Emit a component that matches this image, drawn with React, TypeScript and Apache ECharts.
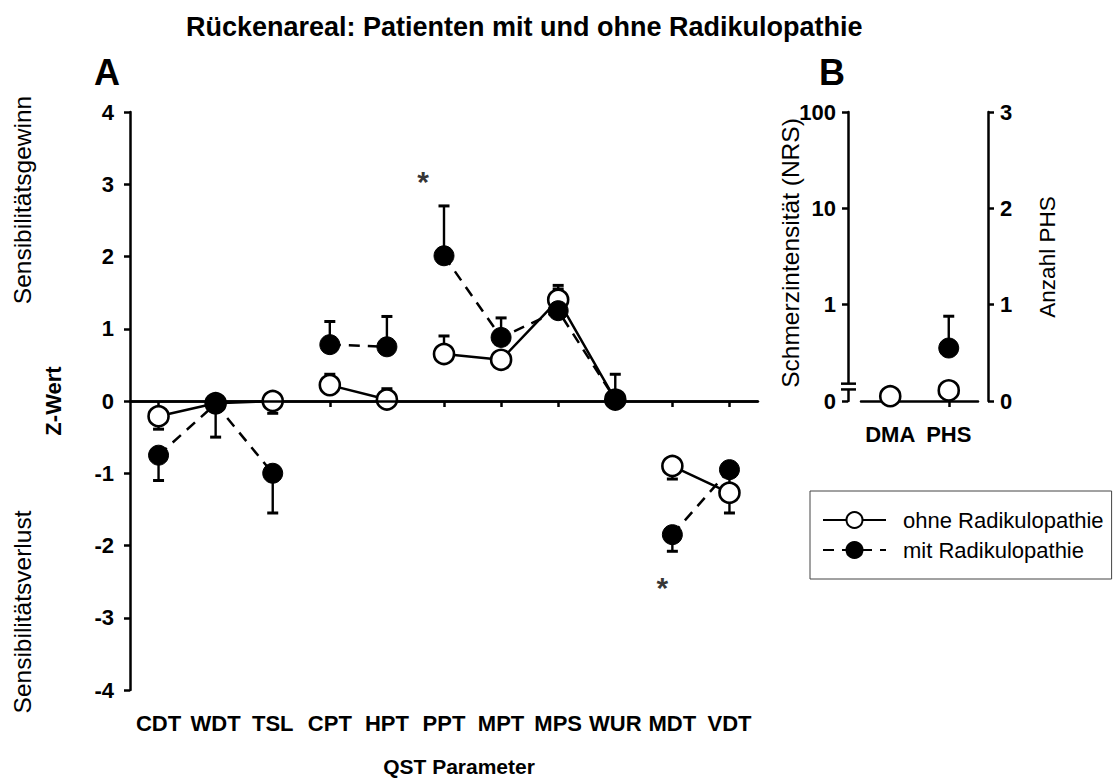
import React, { useEffect, useRef } from "react";
import * as echarts from "echarts";

const FONT = '"Liberation Sans", Arial, sans-serif';

// Panel A
const categories = ["CDT", "WDT", "TSL", "CPT", "HPT", "PPT", "MPT", "MPS", "WUR", "MDT", "VDT"];
const ohneValues = [-0.21, -0.03, 0.0, 0.22, 0.02, 0.65, 0.57, 1.4, 0.02, -0.9, -1.27];
const ohneErrors = [-0.18, -0.08, -0.17, 0.15, 0.15, 0.25, 0.1, 0.2, 0.1, -0.18, -0.28];
const mitValues = [-0.75, -0.04, -1.0, 0.78, 0.75, 2.01, 0.88, 1.25, 0.02, -1.85, -0.95];
const mitErrors = [-0.35, -0.46, -0.55, 0.32, 0.42, 0.69, 0.27, 0.3, 0.35, -0.23, -0.3];
const lineGroups = [[0, 1, 2], [3, 4], [5, 6, 7, 8], [9, 10]];
const starCategories = [5, 9];
const starValues = [3.15, -2.47];
const starOffsets = [-21, -10];

// Panel B
const bCategories = ["DMA", "PHS"];
const bOhne = [0.05, 0.11];
const bMit: (number | string)[] = ["-", 0.55];
const bMitErr = [0, 0.33];
const bLeftLabels = ["0", "1", "10", "100"];
const bRightLabels = ["0", "1", "2", "3"];

const NAME_OHNE = "ohne Radikulopathie";
const NAME_MIT = "mit Radikulopathie";

function errorRender(params: any, api: any) {
  const x = api.value(0);
  const y = api.value(1);
  const e = api.value(2);
  if (!e) return null;
  const p0 = api.coord([x, y]);
  const p1 = api.coord([x, y + e]);
  const hw = 5.5;
  return {
    type: "group",
    children: [
      { type: "line", shape: { x1: p0[0], y1: p0[1], x2: p1[0], y2: p1[1] }, style: { stroke: "#000", lineWidth: 2.4 } },
      { type: "line", shape: { x1: p1[0] - hw, y1: p1[1], x2: p1[0] + hw, y2: p1[1] }, style: { stroke: "#000", lineWidth: 3 } },
    ],
  };
}

export default function App() {
  const ref = useRef<HTMLDivElement>(null);
  useEffect(() => {
    document.body.style.margin = "0";
    const chart = echarts.init(ref.current!, null, { renderer: "svg" });

    const axisLine = { show: true, lineStyle: { color: "#000", width: 2.5 } };
    const axisTick = { show: true, length: 6, lineStyle: { color: "#000", width: 2.5 } };
    const tickFont = { color: "#000", fontFamily: FONT, fontWeight: "bold" as const, fontSize: 22 };

    const ohneSymbol = { color: "#fff", borderColor: "#000", borderWidth: 2.6, opacity: 1 };
    const mitSymbol = { color: "#000", borderColor: "#000", borderWidth: 1, opacity: 1 };

    const groupSeries = (values: number[], name: string, dashed: boolean) =>
      lineGroups.map((g) => ({
        type: "line",
        name,
        xAxisIndex: 0,
        yAxisIndex: 0,
        data: categories.map((_, i) => (g.includes(i) ? values[i] : "-")),
        symbol: "circle",
        symbolSize: 20,
        showSymbol: true,
        itemStyle: dashed ? mitSymbol : ohneSymbol,
        lineStyle: { color: "#000", width: 2.5, type: dashed ? [11, 8] : "solid" },
        silent: true,
        emphasis: { disabled: true },
      }));

    const option: any = {
      animation: false,
      title: {
        text: "Rückenareal: Patienten mit und ohne Radikulopathie",
        left: 181,
        top: 8,
        textStyle: { fontFamily: FONT, fontWeight: "bold", fontSize: 27, color: "#000" },
      },
      legend: {
        data: [NAME_OHNE, NAME_MIT],
        orient: "vertical",
        left: 810,
        top: 491,
        itemWidth: 63,
        itemHeight: 20,
        itemGap: 8,
        padding: [18, 8, 18, 12],
        borderColor: "#444",
        borderWidth: 1,
        selectedMode: false,
        textStyle: { fontFamily: FONT, fontSize: 22, color: "#000", padding: [0, 0, 0, 12] },
      },
      grid: [
        { left: 130, right: 357, top: 112, bottom: 91 },
        { left: 861, right: 137, top: 112, bottom: 381 },
      ],
      xAxis: [
        {
          type: "category",
          gridIndex: 0,
          data: categories,
          boundaryGap: true,
          axisLine,
          axisTick: { ...axisTick, alignWithLabel: true },
          axisLabel: { ...tickFont, margin: 22, interval: 0 },
          name: "QST Parameter",
          nameLocation: "middle",
          nameGap: 66,
          nameTextStyle: { ...tickFont, fontSize: 21, padding: [0, 0, 0, 30] },
          splitLine: { show: false },
        },
        {
          type: "category",
          gridIndex: 1,
          data: bCategories,
          boundaryGap: true,
          axisLine,
          axisTick: { ...axisTick, alignWithLabel: true },
          axisLabel: { ...tickFont, margin: 22, interval: 0 },
          splitLine: { show: false },
        },
      ],
      yAxis: [
        {
          type: "value",
          gridIndex: 0,
          min: -4,
          max: 4,
          interval: 1,
          axisLine,
          axisTick,
          axisLabel: { ...tickFont, margin: 16 },
          splitLine: { show: false },
          name: "Z-Wert",
          nameLocation: "middle",
          nameGap: 66,
          nameRotate: 90,
          nameTextStyle: { ...tickFont },
        },
        {
          type: "value",
          gridIndex: 1,
          position: "left",
          offset: 13,
          min: 0,
          max: 3,
          interval: 1,
          axisLine,
          axisTick,
          axisLabel: { ...tickFont, margin: 12, formatter: (v: number) => bLeftLabels[Math.round(v)] },
          splitLine: { show: false },
        },
        {
          type: "value",
          gridIndex: 1,
          position: "right",
          offset: 10,
          min: 0,
          max: 3,
          interval: 1,
          axisLine,
          axisTick,
          axisLabel: { ...tickFont, margin: 12, formatter: (v: number) => bRightLabels[Math.round(v)] },
          splitLine: { show: false },
        },
      ],
      series: [
        {
          type: "line",
          xAxisIndex: 0,
          yAxisIndex: 0,
          data: categories.map(() => "-"),
          silent: true,
          markLine: {
            silent: true,
            symbol: "none",
            label: { show: false },
            lineStyle: { color: "#000", width: 2.5, type: "solid" },
            data: [{ yAxis: 0 }],
          },
        },
        {
          type: "custom",
          xAxisIndex: 0,
          yAxisIndex: 0,
          renderItem: errorRender,
          data: categories.map((_, i) => [i, ohneValues[i], ohneErrors[i]]),
          encode: { x: 0, y: 1 },
          silent: true,
        },
        ...groupSeries(ohneValues, NAME_OHNE, false),
        {
          type: "custom",
          xAxisIndex: 0,
          yAxisIndex: 0,
          renderItem: errorRender,
          data: categories.map((_, i) => [i, mitValues[i], mitErrors[i]]),
          encode: { x: 0, y: 1 },
          silent: true,
        },
        ...groupSeries(mitValues, NAME_MIT, true),
        {
          type: "scatter",
          xAxisIndex: 0,
          yAxisIndex: 0,
          symbolSize: 1,
          itemStyle: { color: "rgba(0,0,0,0)" },
          data: starCategories.map((c, i) => ({
            value: [c, starValues[i]],
            label: { offset: [starOffsets[i], 8] },
          })),
          label: {
            show: true,
            position: "inside",
            formatter: "*",
            color: "#000",
            fontFamily: FONT,
            fontWeight: "bold",
            fontSize: 30,
          },
          silent: true,
        },
        // Panel B
        {
          type: "custom",
          xAxisIndex: 1,
          yAxisIndex: 2,
          renderItem: errorRender,
          data: bCategories.map((_, i) => [i, typeof bMit[i] === "number" ? bMit[i] : 0, bMitErr[i]]),
          encode: { x: 0, y: 1 },
          silent: true,
        },
        {
          type: "scatter",
          name: NAME_OHNE,
          xAxisIndex: 1,
          yAxisIndex: 2,
          data: bOhne,
          symbol: "circle",
          symbolSize: 20,
          itemStyle: ohneSymbol,
          silent: true,
        },
        {
          type: "scatter",
          name: NAME_MIT,
          xAxisIndex: 1,
          yAxisIndex: 2,
          data: bMit,
          symbol: "circle",
          symbolSize: 20,
          itemStyle: mitSymbol,
          silent: true,
        },
      ],
    };
    chart.setOption(option);

    const yUp = chart.convertToPixel({ yAxisIndex: 1 }, 0.18) as number;
    const yDn = chart.convertToPixel({ yAxisIndex: 1 }, 0.12) as number;
    const ax = 848;

    chart.setOption({
      graphic: [
        { type: "text", left: 94, top: 54, style: { text: "A", fontFamily: FONT, fontWeight: "bold", fontSize: 36, fill: "#000" } },
        { type: "text", left: 819, top: 54, style: { text: "B", fontFamily: FONT, fontWeight: "bold", fontSize: 36, fill: "#000" } },
        {
          type: "text",
          x: 22,
          y: 200,
          rotation: Math.PI / 2,
          style: { text: "Sensibilitätsgewinn", fontFamily: FONT, fontSize: 24.5, fill: "#000", align: "center", verticalAlign: "middle" },
        },
        {
          type: "text",
          x: 22,
          y: 612,
          rotation: Math.PI / 2,
          style: { text: "Sensibilitätsverlust", fontFamily: FONT, fontSize: 24.5, fill: "#000", align: "center", verticalAlign: "middle" },
        },
        {
          type: "text",
          x: 790,
          y: 253,
          rotation: Math.PI / 2,
          style: { text: "Schmerzintensität (NRS)", fontFamily: FONT, fontSize: 24.5, fill: "#000", align: "center", verticalAlign: "middle" },
        },
        {
          type: "text",
          x: 1047,
          y: 257,
          rotation: Math.PI / 2,
          style: { text: "Anzahl PHS", fontFamily: FONT, fontSize: 22.5, fill: "#000", align: "center", verticalAlign: "middle" },
        },
        { type: "rect", shape: { x: ax - 3, y: yUp, width: 6, height: yDn - yUp }, style: { fill: "#fff" }, z: 100 },
        { type: "line", shape: { x1: ax - 7, y1: yUp, x2: ax + 8, y2: yUp }, style: { stroke: "#000", lineWidth: 2.5 }, z: 101 },
        { type: "line", shape: { x1: ax - 7, y1: yDn, x2: ax + 8, y2: yDn }, style: { stroke: "#000", lineWidth: 2.5 }, z: 101 },
      ],
    });

    return () => chart.dispose();
  }, []);
  return <div ref={ref} style={{ width: 1115, height: 782 }} />;
}
